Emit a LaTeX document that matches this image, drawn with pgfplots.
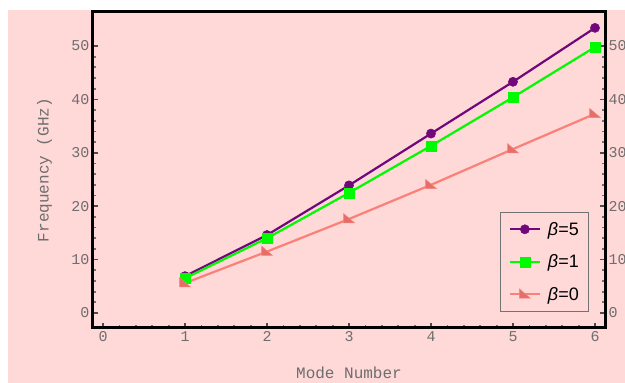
\documentclass[border=0pt]{standalone}
\usepackage{pgfplots}
\pgfplotsset{compat=1.18}
\usepackage{fontspec}
\setmainfont{Liberation Sans}
\newfontfamily\monofont{Liberation Mono}
\definecolor{pinkbg}{RGB}{255,216,216}
\definecolor{ticktext}{RGB}{110,110,110}
\definecolor{cpurple}{RGB}{112,8,124}
\definecolor{cgreen}{RGB}{0,250,0}
\definecolor{csalmon}{RGB}{250,128,120}
\definecolor{csalmonmark}{RGB}{228,110,105}
\pgfdeclareplotmark{rtri}{%
  \pgfpathmoveto{\pgfqpoint{-\pgfplotmarksize}{\pgfplotmarksize}}%
  \pgfpathlineto{\pgfqpoint{-\pgfplotmarksize}{-0.7\pgfplotmarksize}}%
  \pgfpathlineto{\pgfqpoint{\pgfplotmarksize}{-0.7\pgfplotmarksize}}%
  \pgfpathclose\pgfusepathqfillstroke}
\begin{document}
\begin{tikzpicture}[x=1pt,y=1pt]
\useasboundingbox (0,0) rectangle (625,383);
\clip (0,0) rectangle (625,383);
\fill[white] (0,0) rectangle (625,383);
\fill[pinkbg] (8,0) rectangle (625,373);
\pgfplotsset{
  myaxis/.style={
    at={(93pt,55pt)}, anchor=south west,
    scale only axis, width=512pt, height=316pt,
    xmin=-0.122, xmax=6.122, ymin=-2.81, ymax=56.37,
    /pgf/number format/assume math mode=true,
    ticklabel style={font=\monofont\fontsize{15}{17}\selectfont, text=ticktext},
  }
}
\begin{axis}[myaxis,
  axis line style={line width=3pt, black},
  xtick={0,1,2,3,4,5,6}, ytick={0,10,20,30,40,50},
  minor x tick num=4, minor y tick num=4,
  xtick pos=bottom, ytick pos=both,
  tick align=inside,
  major tick length=5pt, minor tick length=3pt,
  every major tick/.style={line width=1.8pt, draw=black!70},
  every minor tick/.style={line width=1.8pt, draw=black!55},
  xlabel={Mode Number}, ylabel={Frequency (GHz)},
  every axis x label/.style={at={(axis description cs:0.5,0)}, anchor=center, yshift=-45pt,
    font=\monofont\fontsize{16}{18}\selectfont, text=ticktext},
  every axis y label/.style={at={(axis description cs:-0.0947,0.5)}, anchor=center, rotate=90,
    font=\monofont\fontsize{16}{18}\selectfont, text=ticktext},
  legend style={at={(0.969,0.0506)}, anchor=south east, draw=black!55, fill=pinkbg,
    font=\fontsize{18}{20}\selectfont, row sep=14pt, inner xsep=8pt, inner ysep=8pt, line width=0.7pt},
  legend cell align=left,
  legend image code/.code={\draw[mark repeat=2,mark phase=2] plot coordinates {(0pt,0pt)(15pt,0pt)(30pt,0pt)};},
]
\addplot[cpurple, line width=2.2pt, mark=*, mark size=4.6pt, mark options={fill=cpurple, draw=cpurple, line width=0.5pt}]
  coordinates {(1,6.9) (2,14.6) (3,23.9) (4,33.6) (5,43.3) (6,53.4)};
\addlegendentry{\hspace{5pt}\textit{β}=5}
\addplot[cgreen, line width=2.2pt, mark=square*, mark size=5pt, mark options={fill=cgreen, draw=cgreen, line width=0.5pt}]
  coordinates {(1,6.5) (2,14.0) (3,22.5) (4,31.3) (5,40.4) (6,49.8)};
\addlegendentry{\hspace{5pt}\textit{β}=1}
\addplot[csalmon, line width=2.2pt, mark=rtri, mark size=5.5pt, mark options={fill=csalmonmark, draw=csalmon, line width=0.5pt}]
  coordinates {(1,5.6) (2,11.5) (3,17.6) (4,24.0) (5,30.7) (6,37.3)};
\addlegendentry{\hspace{5pt}\textit{β}=0}
\end{axis}
\begin{axis}[myaxis,
  axis line style={draw=none},
  xtick=\empty, ytick={0,10,20,30,40,50},
  ytick pos=right, yticklabel pos=right,
  major tick length=0pt,
]
\addplot[draw=none] coordinates {(0,0)};
\end{axis}
\end{tikzpicture}
\end{document}
